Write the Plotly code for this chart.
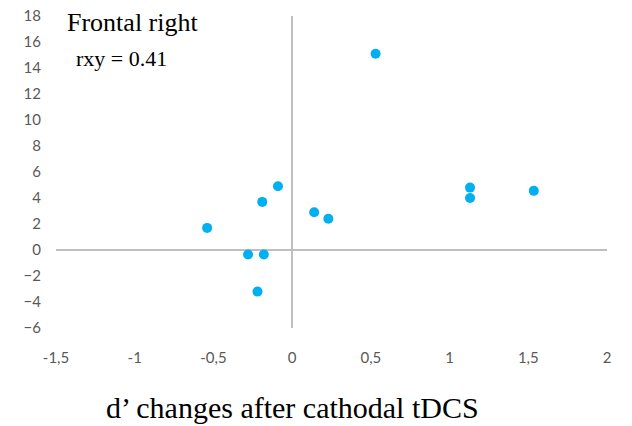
import plotly.graph_objects as go

# Data
d_prime_change = [0.53, -0.09, -0.19, -0.54, -0.28, -0.18, -0.22, 0.14, 0.23, 1.13, 1.13, 1.535]
y_values = [15.1, 4.9, 3.7, 1.7, -0.35, -0.35, -3.2, 2.9, 2.4, 4.8, 4.0, 4.55]

x_tick_vals = [-1.5, -1, -0.5, 0, 0.5, 1, 1.5, 2]
x_tick_text = ["-1,5", "-1", "-0,5", "0", "0,5", "1", "1,5", "2"]
y_tick_vals = [-6, -4, -2, 0, 2, 4, 6, 8, 10, 12, 14, 16, 18]

title_text = "Frontal right"
corr_text = "rxy = 0.41"
x_title = "d\u2019 changes after cathodal tDCS"

fig = go.Figure()
fig.add_trace(go.Scatter(
    x=d_prime_change, y=y_values, mode="markers",
    marker=dict(color="#00B0F0", size=10, line=dict(width=0)),
    showlegend=False,
))

tick_font = dict(family="Lato, Open Sans, sans-serif", size=15, color="#595959")
serif = "Liberation Serif, Times New Roman, serif"
fig.update_layout(
    width=632, height=426,
    margin=dict(l=56, r=25, t=16, b=98),
    paper_bgcolor="white", plot_bgcolor="white",
    xaxis=dict(range=[-1.5, 2], tickvals=x_tick_vals, ticktext=x_tick_text, automargin=False,
               showgrid=False, showline=False, zeroline=True, zerolinecolor="#BFBFBF",
               zerolinewidth=1.5, tickfont=tick_font, ticks="", ticklabelstandoff=19),
    yaxis=dict(range=[-6, 18], tickvals=y_tick_vals, automargin=False,
               showgrid=False, showline=False, zeroline=True, zerolinecolor="#BFBFBF",
               zerolinewidth=1.5, tickfont=tick_font, ticks="", ticklabelstandoff=14),
    annotations=[
        dict(text=title_text, xref="paper", yref="paper", x=0.016, y=1.033,
             xanchor="left", yanchor="top", showarrow=False,
             font=dict(family=serif, size=26, color="black")),
        dict(text=corr_text, xref="paper", yref="paper", x=0.033, y=0.91,
             xanchor="left", yanchor="top", showarrow=False,
             font=dict(family=serif, size=22, color="black")),
        dict(text=x_title, xref="paper", yref="paper", x=0.43, y=-0.195,
             xanchor="center", yanchor="top", showarrow=False,
             font=dict(family=serif, size=30, color="black")),
    ],
)

fig.write_html("out.html")
